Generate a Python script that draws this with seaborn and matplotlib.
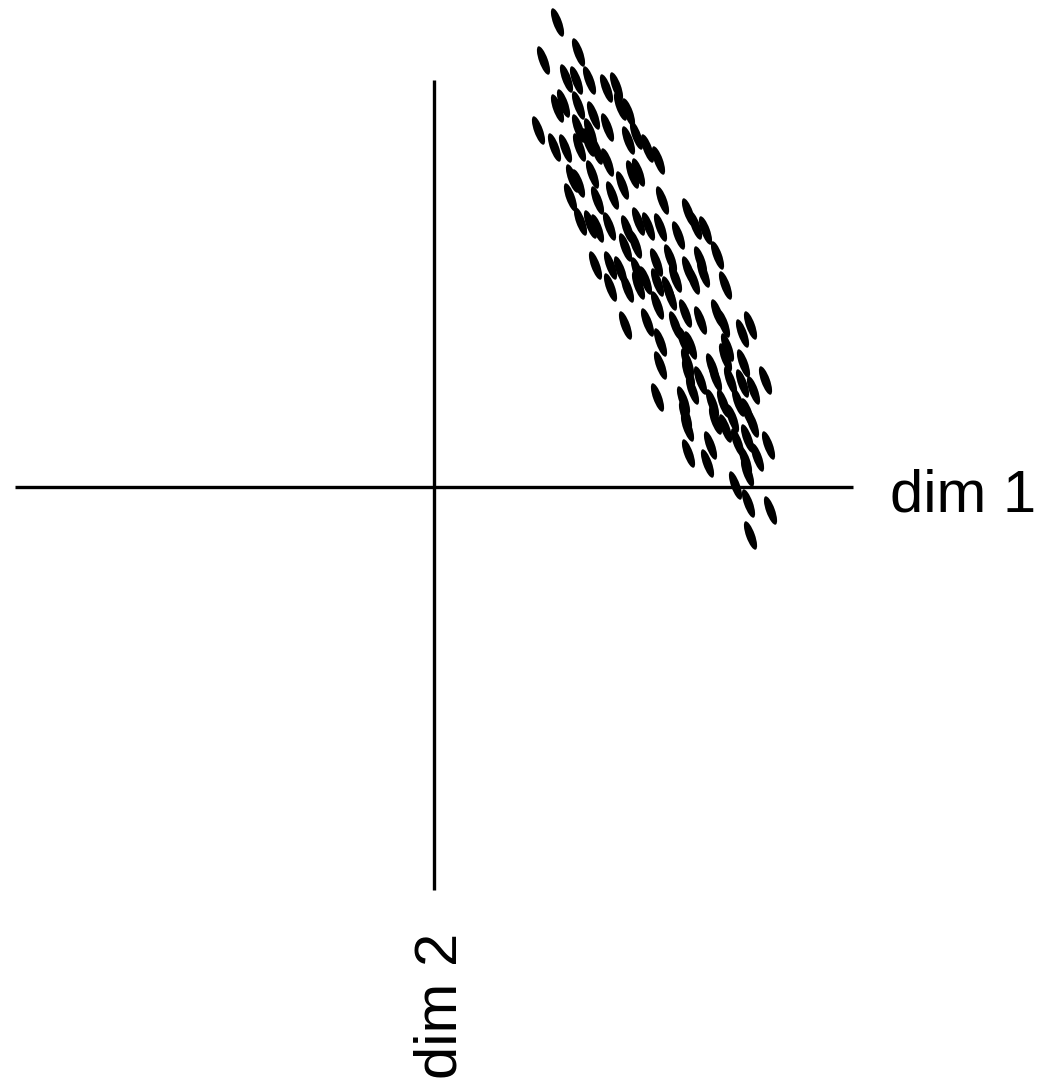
import numpy as np
import matplotlib
matplotlib.use("Agg")
import matplotlib.pyplot as plt
import seaborn as sns
from matplotlib.markers import MarkerStyle
from matplotlib.path import Path
from matplotlib.transforms import Affine2D

sns.set_style("white")
plt.rcParams["font.family"] = ["Liberation Sans", "DejaVu Sans"]
plt.rcParams["text.color"] = "black"

# point positions in the (dim 1, dim 2) plane
dim1 = [1.23, 1.44, 1.09, 1.32, 1.42, 1.55, 1.72, 1.82, 1.23, 1.29,
        1.44, 1.59, 1.73, 1.86, 1.94, 1.04, 1.20, 1.44, 1.56, 1.31,
        1.45, 1.54, 1.62, 1.73, 1.94, 2.02, 2.13, 2.24, 1.38, 1.44,
        1.58, 1.36, 1.63, 1.78, 1.88, 1.98, 2.04, 2.28, 1.46, 1.56,
        1.63, 1.75, 1.93, 2.04, 2.14, 2.26, 2.44, 2.54, 2.61, 2.71,
        1.91, 2.01, 1.61, 1.76, 1.86, 2.03, 2.22, 2.36, 2.66, 2.83,
        2.54, 1.76, 1.93, 2.04, 2.11, 2.23, 2.34, 2.41, 2.59, 2.69,
        2.91, 1.91, 2.13, 2.23, 2.36, 2.51, 2.66, 2.83, 2.89, 3.08,
        3.16, 2.41, 2.26, 2.49, 2.56, 2.26, 2.53, 2.78, 2.91, 2.93,
        3.09, 2.54, 2.66, 2.81, 2.96, 3.08, 3.31, 3.19, 2.23, 2.49,
        2.58, 2.78, 2.89, 3.04, 2.51, 2.53, 2.81, 2.91, 2.98, 3.13,
        3.18, 2.54, 2.76, 2.73, 3.03, 3.13, 3.11, 3.23, 3.34, 3.13,
        3.01, 3.14, 3.36, 3.16]
dim2 = [4.65, 4.35, 4.27, 4.09, 4.07, 4.07, 3.99, 4.01, 3.79, 3.84,
        3.82, 3.72, 3.60, 3.81, 3.75, 3.57, 3.40, 3.59, 3.55, 3.39,
        3.40, 3.45, 3.37, 3.25, 3.47, 3.52, 3.39, 3.27, 3.09, 3.04,
        3.13, 2.90, 2.87, 2.92, 3.02, 3.13, 3.15, 2.87, 2.66, 2.63,
        2.59, 2.61, 2.58, 2.66, 2.61, 2.60, 2.52, 2.75, 2.62, 2.57,
        2.40, 2.43, 2.22, 2.22, 2.17, 2.16, 2.25, 2.29, 2.27, 2.32,
        2.17, 2.00, 1.99, 2.02, 2.07, 2.05, 1.97, 2.09, 2.07, 2.14,
        2.02, 1.62, 1.65, 1.82, 1.91, 1.74, 1.67, 1.74, 1.64, 1.54,
        1.62, 1.62, 1.45, 1.47, 1.42, 1.22, 1.25, 1.20, 1.30, 1.40,
        1.24, 1.14, 1.07, 1.10, 1.07, 1.04, 1.07, 0.97, 0.90, 0.87,
        0.97, 0.84, 0.84, 0.85, 0.72, 0.60, 0.67, 0.59, 0.69, 0.75,
        0.64, 0.34, 0.42, 0.24, 0.45, 0.49, 0.27, 0.30, 0.42, 0.15,
        0.02, -0.16, -0.23, -0.48]

axis_extent_1 = (-4.19, 4.19)
axis_extent_2 = (-4.03, 4.07)

fig = plt.figure(figsize=(10.42, 10.83), dpi=100)
ax = fig.add_axes([0, 0, 1, 1])

# narrow tilted ellipse used as the marker
ell = Path.unit_circle().transformed(Affine2D().scale(0.29, 1.0))
marker = MarkerStyle(ell, transform=Affine2D().rotate_deg(20))

ax.plot(axis_extent_1, [0, 0], color="black", lw=2.4, solid_capstyle="butt")
ax.plot([0, 0], axis_extent_2, color="black", lw=2.4, solid_capstyle="butt")

sns.scatterplot(x=dim1, y=dim2, marker=marker, s=470, color="black",
                linewidth=0, ax=ax, zorder=3)

ax.text(4.56, -0.25, "dim 1", fontsize=43, color="black",
        ha="left", va="baseline")
ax.text(0.23, -5.92, "dim 2", fontsize=43, color="black",
        ha="left", va="baseline", rotation=90, rotation_mode="anchor")

ax.set_xlim(-4.34, 6.08)
ax.set_ylim(-5.96, 4.87)
ax.axis("off")

fig.savefig("out.png", dpi=100)
